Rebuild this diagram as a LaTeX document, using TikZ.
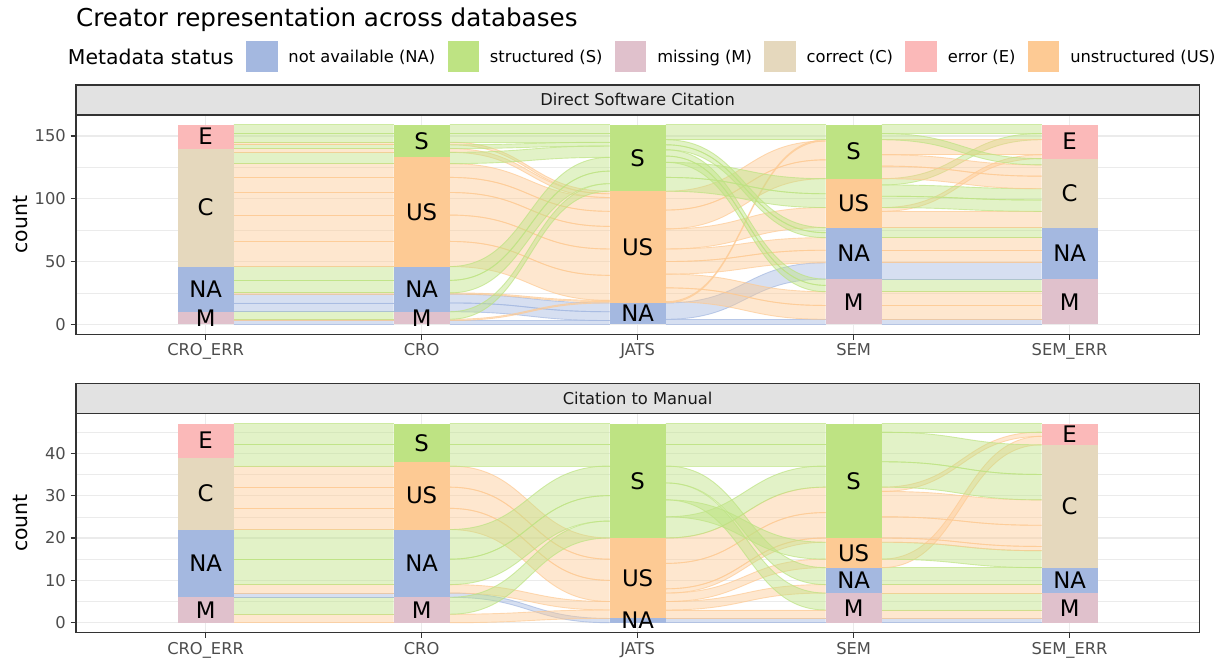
\documentclass[tikz,border=0pt]{standalone}
\usepackage{fontspec}
\setmainfont{DejaVu Sans}
\usetikzlibrary{positioning}

\definecolor{naBlue}{HTML}{A4B8E0}
\definecolor{sGreen}{HTML}{BEE383}
\definecolor{mPink}{HTML}{E0C1CC}
\definecolor{cBeige}{HTML}{E5D8BD}
\definecolor{eRed}{HTML}{FBB9B9}
\definecolor{usOrange}{HTML}{FDCA94}
\definecolor{gridgray}{HTML}{EBEBEB}
\definecolor{framegray}{HTML}{333333}
\definecolor{stripgray}{HTML}{E2E2E2}
\definecolor{ticktext}{HTML}{4D4D4D}

\tikzset{
  titletext/.style={font=\fontsize{24.6}{29}\selectfont, inner sep=0pt},
  legtitletext/.style={font=\fontsize{20.4}{24}\selectfont, inner sep=0pt},
  leglabel/.style={font=\fontsize{16.3}{20}\selectfont, inner sep=0pt, text height=12.7pt, text depth=0pt},
  legkey/.style={minimum size=31.5pt, inner sep=0pt},
  striptext/.style={font=\fontsize{16.3}{20}\selectfont, text=black!90, inner sep=0pt},
  ticklabel/.style={font=\fontsize{16.3}{20}\selectfont, text=ticktext, inner sep=0pt},
  axistitle/.style={font=\fontsize{20.4}{24}\selectfont, inner sep=0pt, rotate=90},
  stratlabel/.style={font=\fontsize{22.8}{26}\selectfont, inner sep=0pt},
  gridmajor/.style={draw=gridgray, line width=1.07pt},
  gridminor/.style={draw=gridgray, line width=.55pt},
  axistick/.style={draw=framegray, line width=1.07pt},
  panelframe/.style={draw=framegray, line width=1.07pt},
  stripbox/.style={draw=framegray, fill=stripgray, line width=1.07pt},
  flowfill/.style={fill=#1, fill opacity=.45},
  flowline/.style={draw=#1, draw opacity=.7, line width=.9pt}
}

% ribbon between column #1 and #1+1: left from #2 to #3, right from #4 to #5
\newcommand{\flow}[6]{%
  \fill[flowfill=#6] ({17.6+216*#1},#2) .. controls +(80,0) and +(-80,0) .. ({177.6+216*#1},#4)
    -- ({177.6+216*#1},#5) .. controls +(-80,0) and +(80,0) .. ({17.6+216*#1},#3) -- cycle;
  \draw[flowline=#6] ({17.6+216*#1},#2) .. controls +(80,0) and +(-80,0) .. ({177.6+216*#1},#4);
  \draw[flowline=#6] ({17.6+216*#1},#3) .. controls +(80,0) and +(-80,0) .. ({177.6+216*#1},#5);
}
% stratum box: name, column, from, to, colour, label (call from top to bottom)
\newcommand{\stratum}[6]{%
  \fill[#5] ({177.6+216*(#2-1)},#3) rectangle ({233.6+216*(#2-1)},#4);
  \node (#1) [stratlabel] at ({205.6+216*(#2-1)},{(#3+#4)/2}) {#6};
}

\begin{document}
\begin{tikzpicture}[x=1pt, y=1pt]
\useasboundingbox (0,0) rectangle (1215,660);

% title and legend
\node (title) [titletext, anchor=base west] at (76,633.5) {Creator representation across databases};
\node (legtitle) [legtitletext, anchor=west] at (67.7,603.5) {Metadata status};
\node (keyNA) [legkey, fill=naBlue, right=12pt of legtitle] {};
\node (labNA) [leglabel, right=10.5pt of keyNA] {not available (NA)};
\node (keyS) [legkey, fill=sGreen, right=12pt of labNA] {};
\node (labS) [leglabel, right=10.5pt of keyS] {structured (S)};
\node (keyM) [legkey, fill=mPink, right=12pt of labS] {};
\node (labM) [leglabel, right=10.5pt of keyM] {missing (M)};
\node (keyC) [legkey, fill=cBeige, right=12pt of labM] {};
\node (labC) [leglabel, right=10.5pt of keyC] {correct (C)};
\node (keyE) [legkey, fill=eRed, right=12pt of labC] {};
\node (labE) [leglabel, right=10.5pt of keyE] {error (E)};
\node (keyUS) [legkey, fill=usOrange, right=12pt of labE] {};
\node (labUS) [leglabel, right=10.5pt of keyUS] {unstructured (US)};

% ---------------- panel 1: Direct Software Citation ----------------
\draw[gridmajor] (205.6,325.7) -- (205.6,545);
\draw[gridmajor] (421.6,325.7) -- (421.6,545);
\draw[gridmajor] (637.6,325.7) -- (637.6,545);
\draw[gridmajor] (853.6,325.7) -- (853.6,545);
\draw[gridmajor] (1069.6,325.7) -- (1069.6,545);
\begin{scope}[shift={(0pt,335.7pt)}, y=1.2553pt]
  \draw[gridminor] (76,25) -- (1199.2,25);
  \draw[gridminor] (76,75) -- (1199.2,75);
  \draw[gridminor] (76,125) -- (1199.2,125);
  \draw[gridmajor] (76,0) -- (1199.2,0);
  \draw[gridmajor] (76,50) -- (1199.2,50);
  \draw[gridmajor] (76,100) -- (1199.2,100);
  \draw[gridmajor] (76,150) -- (1199.2,150);

  % CRO_ERR -> CRO
  \flow{1}{0}{3}{0}{3}{naBlue}
  \flow{1}{3}{4}{3}{4}{usOrange}
  \flow{1}{4}{10}{4}{10}{sGreen}
  \flow{1}{10}{17}{10}{17}{naBlue}
  \flow{1}{17}{24}{17}{24}{naBlue}
  \flow{1}{24}{25}{24}{25}{usOrange}
  \flow{1}{25}{35}{25}{35}{sGreen}
  \flow{1}{35}{46}{35}{46}{sGreen}
  \flow{1}{46}{66}{46}{66}{usOrange}
  \flow{1}{66}{87}{66}{87}{usOrange}
  \flow{1}{87}{105}{87}{105}{usOrange}
  \flow{1}{105}{117}{105}{117}{usOrange}
  \flow{1}{117}{128}{117}{128}{usOrange}
  \flow{1}{128}{137}{128}{137}{sGreen}
  \flow{1}{137}{140}{137}{140}{usOrange}
  \flow{1}{140}{143}{140}{143}{sGreen}
  \flow{1}{143}{145}{143}{145}{usOrange}
  \flow{1}{145}{152}{145}{152}{sGreen}
  \flow{1}{152}{159}{152}{159}{sGreen}
  % CRO -> JATS
  \flow{2}{0}{3}{0}{3}{naBlue}
  \flow{2}{10}{17}{3}{10}{naBlue}
  \flow{2}{17}{24}{10}{17}{naBlue}
  \flow{2}{3}{4}{17}{18}{usOrange}
  \flow{2}{24}{25}{18}{19}{usOrange}
  \flow{2}{46}{66}{19}{39}{usOrange}
  \flow{2}{66}{87}{39}{60}{usOrange}
  \flow{2}{87}{105}{60}{78}{usOrange}
  \flow{2}{105}{117}{78}{90}{usOrange}
  \flow{2}{117}{128}{90}{101}{usOrange}
  \flow{2}{137}{140}{101}{104}{usOrange}
  \flow{2}{143}{145}{104}{106}{usOrange}
  \flow{2}{4}{10}{106}{112}{sGreen}
  \flow{2}{25}{35}{112}{122}{sGreen}
  \flow{2}{35}{46}{122}{133}{sGreen}
  \flow{2}{128}{137}{133}{142}{sGreen}
  \flow{2}{140}{143}{142}{145}{sGreen}
  \flow{2}{145}{152}{145}{152}{sGreen}
  \flow{2}{152}{159}{152}{159}{sGreen}
  % JATS -> SEM
  \flow{3}{0}{4}{0}{4}{naBlue}
  \flow{3}{4}{17}{36}{49}{naBlue}
  \flow{3}{17}{18}{146}{147}{usOrange}
  \flow{3}{18}{29}{4}{15}{usOrange}
  \flow{3}{29}{40}{15}{26}{usOrange}
  \flow{3}{40}{50}{49}{59}{usOrange}
  \flow{3}{50}{60}{59}{69}{usOrange}
  \flow{3}{60}{76}{77}{93}{usOrange}
  \flow{3}{76}{91}{116}{131}{usOrange}
  \flow{3}{91}{106}{131}{146}{usOrange}
  \flow{3}{106}{117}{93}{104}{sGreen}
  \flow{3}{117}{129}{104}{116}{sGreen}
  \flow{3}{129}{134}{26}{31}{sGreen}
  \flow{3}{134}{139}{31}{36}{sGreen}
  \flow{3}{139}{143}{69}{73}{sGreen}
  \flow{3}{143}{147}{73}{77}{sGreen}
  \flow{3}{147}{159}{147}{159}{sGreen}
  % SEM -> SEM_ERR
  \flow{4}{0}{4}{0}{4}{naBlue}
  \flow{4}{4}{15}{4}{15}{usOrange}
  \flow{4}{15}{26}{15}{26}{usOrange}
  \flow{4}{26}{36}{26}{36}{sGreen}
  \flow{4}{36}{49}{36}{49}{naBlue}
  \flow{4}{49}{59}{49}{59}{usOrange}
  \flow{4}{59}{69}{59}{69}{usOrange}
  \flow{4}{69}{77}{69}{77}{sGreen}
  \flow{4}{77}{90}{77}{90}{usOrange}
  \flow{4}{90}{93}{132}{135}{usOrange}
  \flow{4}{93}{102}{90}{99}{sGreen}
  \flow{4}{102}{111}{99}{108}{sGreen}
  \flow{4}{111}{116}{147}{152}{sGreen}
  \flow{4}{116}{126}{108}{118}{usOrange}
  \flow{4}{126}{135}{118}{127}{usOrange}
  \flow{4}{135}{147}{135}{147}{usOrange}
  \flow{4}{147}{152}{127}{132}{sGreen}
  \flow{4}{152}{159}{152}{159}{sGreen}

  \stratum{pa4}{1}{140}{159}{eRed}{E}
  \stratum{pa3}{1}{46}{140}{cBeige}{C}
  \stratum{pa2}{1}{10}{46}{naBlue}{NA}
  \stratum{pa1}{1}{0}{10}{mPink}{M}
  \stratum{pb4}{2}{133}{159}{sGreen}{S}
  \stratum{pb3}{2}{46}{133}{usOrange}{US}
  \stratum{pb2}{2}{10}{46}{naBlue}{NA}
  \stratum{pb1}{2}{0}{10}{mPink}{M}
  \stratum{pc3}{3}{106}{159}{sGreen}{S}
  \stratum{pc2}{3}{17}{106}{usOrange}{US}
  \stratum{pc1}{3}{0}{17}{naBlue}{NA}
  \stratum{pd4}{4}{116}{159}{sGreen}{S}
  \stratum{pd3}{4}{77}{116}{usOrange}{US}
  \stratum{pd2}{4}{36}{77}{naBlue}{NA}
  \stratum{pd1}{4}{0}{36}{mPink}{M}
  \stratum{pe4}{5}{132}{159}{eRed}{E}
  \stratum{pe3}{5}{77}{132}{cBeige}{C}
  \stratum{pe2}{5}{36}{77}{naBlue}{NA}
  \stratum{pe1}{5}{0}{36}{mPink}{M}

  \draw[axistick] (70.5,0) -- (76,0);
  \draw[axistick] (70.5,50) -- (76,50);
  \draw[axistick] (70.5,100) -- (76,100);
  \draw[axistick] (70.5,150) -- (76,150);
  \node (p1y0) [ticklabel, anchor=east] at (66,0) {0};
  \node (p1y50) [ticklabel, anchor=east] at (66,50) {50};
  \node (p1y100) [ticklabel, anchor=east] at (66,100) {100};
  \node (p1y150) [ticklabel, anchor=east] at (66,150) {150};
\end{scope}
\draw[panelframe] (76,325.7) rectangle (1199.2,545);
\draw[stripbox] (76,545) rectangle (1199.2,575);
\node (strip1) [striptext] at (637.6,560.2) {Direct Software Citation};
\node (count1) [axistitle] at (20,435.3) {count};
\draw[axistick] (205.6,325.7) -- (205.6,320.2);
\draw[axistick] (421.6,325.7) -- (421.6,320.2);
\draw[axistick] (637.6,325.7) -- (637.6,320.2);
\draw[axistick] (853.6,325.7) -- (853.6,320.2);
\draw[axistick] (1069.6,325.7) -- (1069.6,320.2);
\node (p1xa) [ticklabel, anchor=base] at (205.6,304.1) {CRO\_ERR};
\node (p1xb) [ticklabel, anchor=base] at (421.6,304.1) {CRO};
\node (p1xc) [ticklabel, anchor=base] at (637.6,304.1) {JATS};
\node (p1xd) [ticklabel, anchor=base] at (853.6,304.1) {SEM};
\node (p1xe) [ticklabel, anchor=base] at (1069.6,304.1) {SEM\_ERR};

% ---------------- panel 2: Citation to Manual ----------------
\draw[gridmajor] (205.6,27.3) -- (205.6,246.3);
\draw[gridmajor] (421.6,27.3) -- (421.6,246.3);
\draw[gridmajor] (637.6,27.3) -- (637.6,246.3);
\draw[gridmajor] (853.6,27.3) -- (853.6,246.3);
\draw[gridmajor] (1069.6,27.3) -- (1069.6,246.3);
\begin{scope}[shift={(0pt,37.3pt)}, y=4.235pt]
  \draw[gridminor] (76,5) -- (1199.2,5);
  \draw[gridminor] (76,15) -- (1199.2,15);
  \draw[gridminor] (76,25) -- (1199.2,25);
  \draw[gridminor] (76,35) -- (1199.2,35);
  \draw[gridminor] (76,45) -- (1199.2,45);
  \draw[gridmajor] (76,0) -- (1199.2,0);
  \draw[gridmajor] (76,10) -- (1199.2,10);
  \draw[gridmajor] (76,20) -- (1199.2,20);
  \draw[gridmajor] (76,30) -- (1199.2,30);
  \draw[gridmajor] (76,40) -- (1199.2,40);

  % CRO_ERR -> CRO
  \flow{1}{0}{2}{0}{2}{usOrange}
  \flow{1}{2}{6}{2}{6}{sGreen}
  \flow{1}{6}{7}{6}{7}{naBlue}
  \flow{1}{7}{9}{7}{9}{usOrange}
  \flow{1}{9}{15}{9}{15}{sGreen}
  \flow{1}{15}{22}{15}{22}{sGreen}
  \flow{1}{22}{27}{22}{27}{usOrange}
  \flow{1}{27}{32}{27}{32}{usOrange}
  \flow{1}{32}{37}{32}{37}{usOrange}
  \flow{1}{37}{42}{37}{42}{sGreen}
  \flow{1}{42}{47}{42}{47}{sGreen}
  % CRO -> JATS
  \flow{2}{6}{7}{0}{1}{naBlue}
  \flow{2}{0}{2}{1}{3}{usOrange}
  \flow{2}{7}{9}{3}{5}{usOrange}
  \flow{2}{22}{27}{5}{10}{usOrange}
  \flow{2}{27}{32}{10}{15}{usOrange}
  \flow{2}{32}{37}{15}{20}{usOrange}
  \flow{2}{2}{6}{20}{24}{sGreen}
  \flow{2}{9}{15}{24}{30}{sGreen}
  \flow{2}{15}{22}{30}{37}{sGreen}
  \flow{2}{37}{42}{37}{42}{sGreen}
  \flow{2}{42}{47}{42}{47}{sGreen}
  % JATS -> SEM
  \flow{3}{0}{1}{0}{1}{naBlue}
  \flow{3}{1}{3}{1}{3}{usOrange}
  \flow{3}{3}{5}{7}{9}{usOrange}
  \flow{3}{5}{7}{13}{15}{usOrange}
  \flow{3}{7}{8}{19}{20}{usOrange}
  \flow{3}{8}{14}{20}{26}{usOrange}
  \flow{3}{14}{20}{26}{32}{usOrange}
  \flow{3}{20}{25}{32}{37}{sGreen}
  \flow{3}{25}{29}{15}{19}{sGreen}
  \flow{3}{29}{33}{3}{7}{sGreen}
  \flow{3}{33}{37}{9}{13}{sGreen}
  \flow{3}{37}{42}{37}{42}{sGreen}
  \flow{3}{42}{47}{42}{47}{sGreen}
  % SEM -> SEM_ERR
  \flow{4}{0}{1}{0}{1}{naBlue}
  \flow{4}{1}{3}{1}{3}{usOrange}
  \flow{4}{3}{7}{3}{7}{sGreen}
  \flow{4}{7}{9}{7}{9}{usOrange}
  \flow{4}{9}{13}{9}{13}{sGreen}
  \flow{4}{13}{15}{42}{44}{usOrange}
  \flow{4}{15}{19}{13}{17}{sGreen}
  \flow{4}{19}{20}{17}{18}{usOrange}
  \flow{4}{20}{25}{18}{23}{usOrange}
  \flow{4}{25}{31}{23}{29}{usOrange}
  \flow{4}{31}{32}{44}{45}{usOrange}
  \flow{4}{32}{38}{29}{35}{sGreen}
  \flow{4}{38}{45}{35}{42}{sGreen}
  \flow{4}{45}{47}{45}{47}{sGreen}

  \stratum{qa4}{1}{39}{47}{eRed}{E}
  \stratum{qa3}{1}{22}{39}{cBeige}{C}
  \stratum{qa2}{1}{6}{22}{naBlue}{NA}
  \stratum{qa1}{1}{0}{6}{mPink}{M}
  \stratum{qb4}{2}{38}{47}{sGreen}{S}
  \stratum{qb3}{2}{22}{38}{usOrange}{US}
  \stratum{qb2}{2}{6}{22}{naBlue}{NA}
  \stratum{qb1}{2}{0}{6}{mPink}{M}
  \stratum{qc3}{3}{20}{47}{sGreen}{S}
  \stratum{qc2}{3}{1}{20}{usOrange}{US}
  \stratum{qc1}{3}{0}{1}{naBlue}{NA}
  \stratum{qd4}{4}{20}{47}{sGreen}{S}
  \stratum{qd3}{4}{13}{20}{usOrange}{US}
  \stratum{qd2}{4}{7}{13}{naBlue}{NA}
  \stratum{qd1}{4}{0}{7}{mPink}{M}
  \stratum{qe4}{5}{42}{47}{eRed}{E}
  \stratum{qe3}{5}{13}{42}{cBeige}{C}
  \stratum{qe2}{5}{7}{13}{naBlue}{NA}
  \stratum{qe1}{5}{0}{7}{mPink}{M}

  \draw[axistick] (70.5,0) -- (76,0);
  \draw[axistick] (70.5,10) -- (76,10);
  \draw[axistick] (70.5,20) -- (76,20);
  \draw[axistick] (70.5,30) -- (76,30);
  \draw[axistick] (70.5,40) -- (76,40);
  \node (p2y0) [ticklabel, anchor=east] at (66,0) {0};
  \node (p2y10) [ticklabel, anchor=east] at (66,10) {10};
  \node (p2y20) [ticklabel, anchor=east] at (66,20) {20};
  \node (p2y30) [ticklabel, anchor=east] at (66,30) {30};
  \node (p2y40) [ticklabel, anchor=east] at (66,40) {40};
\end{scope}
\draw[panelframe] (76,27.3) rectangle (1199.2,246.3);
\draw[stripbox] (76,246.3) rectangle (1199.2,276.3);
\node (strip2) [striptext] at (637.6,261.5) {Citation to Manual};
\node (count2) [axistitle] at (20,136.8) {count};
\draw[axistick] (205.6,27.3) -- (205.6,21.8);
\draw[axistick] (421.6,27.3) -- (421.6,21.8);
\draw[axistick] (637.6,27.3) -- (637.6,21.8);
\draw[axistick] (853.6,27.3) -- (853.6,21.8);
\draw[axistick] (1069.6,27.3) -- (1069.6,21.8);
\node (p2xa) [ticklabel, anchor=base] at (205.6,5.7) {CRO\_ERR};
\node (p2xb) [ticklabel, anchor=base] at (421.6,5.7) {CRO};
\node (p2xc) [ticklabel, anchor=base] at (637.6,5.7) {JATS};
\node (p2xd) [ticklabel, anchor=base] at (853.6,5.7) {SEM};
\node (p2xe) [ticklabel, anchor=base] at (1069.6,5.7) {SEM\_ERR};
\end{tikzpicture}
\end{document}
